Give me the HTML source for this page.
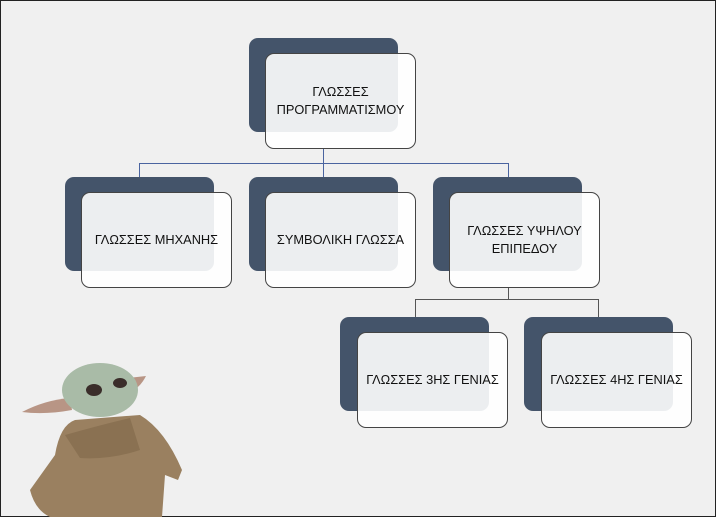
<!DOCTYPE html>
<html><head><meta charset="utf-8"><style>
html,body{margin:0;padding:0}
body{width:716px;height:517px;background:#f0f0f0;position:relative;overflow:hidden;font-family:"Liberation Sans","DejaVu Sans",sans-serif}
.frame{position:absolute;left:0;top:0;width:714px;height:515px;border:1px solid #222}
.d{position:absolute;width:149px;height:94px;background:#44546a;border-radius:9px}
.f{position:absolute;width:149px;height:94px;background:rgba(255,255,255,0.9);border:1px solid #444;border-radius:9px;display:flex;align-items:center;justify-content:center;text-align:center;font-size:12.8px;color:#111;line-height:18px}
.l{position:absolute;background:#4a64a0}
.l2{position:absolute;background:#555}
</style></head><body>
<div class="frame"></div>
<div class="l" style="left:323px;top:148px;width:1px;height:15px"></div>
<div class="l" style="left:139px;top:163px;width:370px;height:1px"></div>
<div class="l" style="left:139px;top:163px;width:1px;height:14px"></div>
<div class="l" style="left:323px;top:163px;width:1px;height:14px"></div>
<div class="l" style="left:508px;top:163px;width:1px;height:14px"></div>
<div class="l2" style="left:508px;top:288px;width:1px;height:11px"></div>
<div class="l2" style="left:415px;top:299px;width:184px;height:1px"></div>
<div class="l2" style="left:415px;top:299px;width:1px;height:18px"></div>
<div class="l2" style="left:598px;top:299px;width:1px;height:18px"></div>

<div class="d" style="left:249px;top:38px"></div>
<div class="f" style="left:265px;top:53px">ΓΛΩΣΣΕΣ<br>ΠΡΟΓΡΑΜΜΑΤΙΣΜΟΥ</div>
<div class="d" style="left:65px;top:177px"></div>
<div class="f" style="left:81px;top:192px">ΓΛΩΣΣΕΣ ΜΗΧΑΝΗΣ</div>
<div class="d" style="left:249px;top:177px"></div>
<div class="f" style="left:265px;top:192px">ΣΥΜΒΟΛΙΚΗ ΓΛΩΣΣΑ</div>
<div class="d" style="left:433px;top:177px"></div>
<div class="f" style="left:449px;top:192px">ΓΛΩΣΣΕΣ ΥΨΗΛΟΥ<br>ΕΠΙΠΕΔΟΥ</div>
<div class="d" style="left:340px;top:317px"></div>
<div class="f" style="left:357px;top:332px">ΓΛΩΣΣΕΣ 3ΗΣ ΓΕΝΙΑΣ</div>
<div class="d" style="left:524px;top:317px"></div>
<div class="f" style="left:541px;top:332px">ΓΛΩΣΣΕΣ 4ΗΣ ΓΕΝΙΑΣ</div>

<svg style="position:absolute;left:0;top:340px" width="200" height="177">
<path d="M55 115 Q60 85 75 80 L140 75 Q165 90 182 130 L178 140 L165 135 L162 177 L50 177 Q35 170 30 150 Z" fill="#9a8060"/>
<path d="M65 95 Q100 85 130 78 L140 110 Q110 120 80 118 Z" fill="#8a7152"/>
<path d="M22 72 Q45 60 70 58 L72 70 Q45 75 22 72Z" fill="#b89585"/>
<path d="M128 38 L146 36 Q140 48 130 52Z" fill="#b89585"/>
<ellipse cx="100" cy="50" rx="38" ry="27" fill="#a9bba7"/>
<ellipse cx="94" cy="50" rx="8" ry="6" fill="#3a2d2a"/>
<ellipse cx="120" cy="43" rx="7" ry="5" fill="#3a2d2a"/>
</svg>
</body></html>
